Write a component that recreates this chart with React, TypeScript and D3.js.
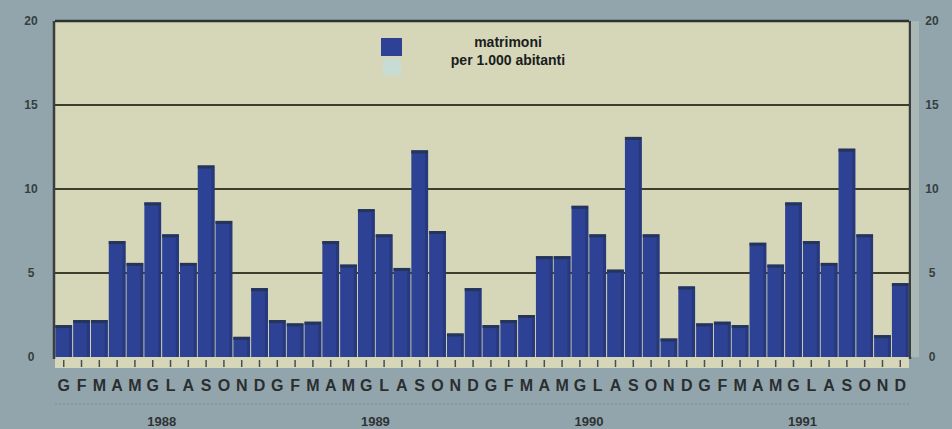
import React from "react";
import * as d3 from "d3";

const years = ["1988", "1989", "1990", "1991"];
const months = ["G", "F", "M", "A", "M", "G", "L", "A", "S", "O", "N", "D"];
const values1988 = [1.9, 2.2, 2.2, 6.9, 5.6, 9.2, 7.3, 5.6, 11.4, 8.1, 1.2, 4.1];
const values1989 = [2.2, 2.0, 2.1, 6.9, 5.5, 8.8, 7.3, 5.3, 12.3, 7.5, 1.4, 4.1];
const values1990 = [1.9, 2.2, 2.5, 6.0, 6.0, 9.0, 7.3, 5.2, 13.1, 7.3, 1.1, 4.2];
const values1991 = [2.0, 2.1, 1.9, 6.8, 5.5, 9.2, 6.9, 5.6, 12.4, 7.3, 1.3, 4.4];
const yTicks = [0, 5, 10, 15, 20];
const legendLines = ["matrimoni", "per 1.000 abitanti"];

const allValues = [values1988, values1989, values1990, values1991];

export default function App() {
  const W = 952, H = 429;
  const left = 55, right = 909, top = 21, bottom = 357;
  const data = allValues.flatMap((arr, yi) =>
    arr.map((v, mi) => ({ key: `${years[yi]}-${mi}`, month: months[mi], year: years[yi], v }))
  );
  const x = d3.scaleBand<string>().domain(data.map(d => d.key)).range([left, right]).paddingInner(0.06).paddingOuter(0.02);
  const y = d3.scaleLinear().domain([0, 20]).range([bottom, top]);
  const step = x.step();
  const font = "'Liberation Sans', Arial, sans-serif";

  return (
    <svg width={W} height={H} style={{ position: "absolute", left: 0, top: 0 }} fontFamily={font}>
      <rect x={0} y={0} width={W} height={H} fill="#93a5ac" />
      <rect x={left} y={top} width={right - left} height={bottom - top + 11} fill="#d6d6b8" />
      {yTicks.filter(t => t > 0 && t < 20).map(t => (
        <line key={t} x1={left} x2={right} y1={y(t)} y2={y(t)} stroke="#3e3e2c" strokeWidth={2} />
      ))}
      <line x1={left} x2={right} y1={top} y2={top} stroke="#2f3330" strokeWidth={2.5} />
      <line x1={left - 1} x2={left - 1} y1={top} y2={bottom + 2} stroke="#3a3e3e" strokeWidth={2.5} />
      <line x1={right + 1} x2={right + 1} y1={top} y2={bottom + 2} stroke="#3a3e3e" strokeWidth={2.5} />
      <rect x={right + 2} y={top} width={8} height={bottom - top} fill="#a9b8b4" />
      {data.map(d => (
        <g key={d.key}>
          <rect x={x(d.key)} y={y(d.v)} width={x.bandwidth()} height={y(0) - y(d.v)} fill="#2d4294" />
          <rect x={x(d.key)} y={y(d.v)} width={x.bandwidth()} height={3} fill="#253459" />
          <rect x={(x(d.key) as number) + x.bandwidth() - 3} y={y(d.v) + 3} width={3} height={y(0) - y(d.v) - 3} fill="#27397a" />
        </g>
      ))}
      {data.map(d => (
        <line key={"t" + d.key} x1={(x(d.key) as number) + x.bandwidth() / 2} x2={(x(d.key) as number) + x.bandwidth() / 2}
          y1={bottom + 3} y2={bottom + 10} stroke="#4a4e52" strokeWidth={1.5} />
      ))}
      {data.map(d => (
        <text key={"m" + d.key} x={(x(d.key) as number) + x.bandwidth() / 2} y={391} textAnchor="middle"
          fontSize={16} fontWeight="bold" fill="#2a2e30">{d.month}</text>
      ))}
      <line x1={left} x2={right} y1={404} y2={404} stroke="#7d8d93" strokeWidth={1} strokeDasharray="2,2" />
      {years.map((yr, i) => (
        <text key={yr} x={left + step * (i * 12 + 6)} y={426} textAnchor="middle" fontSize={13} fontWeight="bold" fill="#2e3436">{yr}</text>
      ))}
      {yTicks.map(t => (
        <g key={"y" + t}>
          <text x={31} y={y(t) + 4} textAnchor="middle" fontSize={12} fontWeight="bold" fill="#34403f">{t}</text>
          <text x={932} y={y(t) + 4} textAnchor="middle" fontSize={12} fontWeight="bold" fill="#34403f">{t}</text>
        </g>
      ))}
      <rect x={381} y={38} width={21} height={18} fill="#2d4294" />
      <rect x={383} y={59} width={18} height={16} fill="#c8dcd6" />
      {legendLines.map((l, i) => (
        <text key={l} x={508} y={47 + i * 18} textAnchor="middle" fontSize={14} fontWeight={600} fill="#1a1d1d">{l}</text>
      ))}
    </svg>
  );
}
